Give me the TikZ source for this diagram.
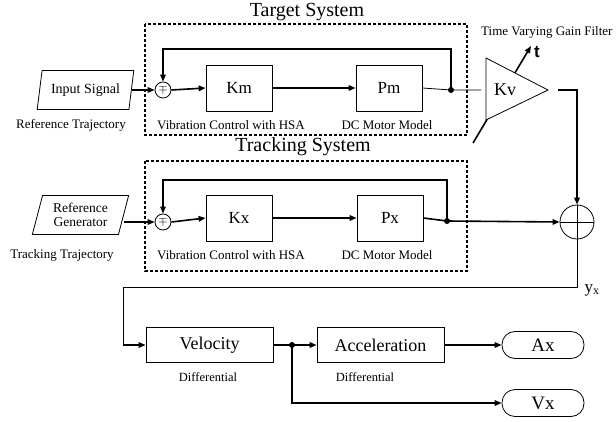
\documentclass[tikz,border=0pt]{standalone}
\usepackage{fontspec}
\setmainfont{Liberation Serif}
\newfontfamily\sansfont{Liberation Sans}
\usetikzlibrary{shapes.geometric,arrows.meta}

\newcommand{\fs}[1]{\fontsize{#1}{#1}\selectfont}

\begin{document}
\begin{tikzpicture}[x=1pt, y=-1pt, >={Triangle[length=7pt,width=5.5pt]},
block/.style={draw, line width=.8pt, minimum width=66pt, minimum height=46pt, inner sep=0, font=\fs{17}},
diffblock/.style={block, minimum width=127pt, minimum height=35pt, font=\fs{18}},
para/.style={trapezium, trapezium left angle=73, trapezium right angle=107, trapezium stretches=true,
  draw, line width=.8pt, minimum width=97pt, minimum height=39pt, inner sep=0, font=\fs{14}, align=center},
summer/.style={draw, circle, line width=.8pt, minimum size=16pt, inner sep=0, font=\fs{13}},
bigsummer/.style={draw, circle, line width=.8pt, minimum size=34pt, inner sep=0},
junction/.style={circle, fill=black, inner sep=0, minimum size=6pt},
outbox/.style={draw, rounded corners=13pt, line width=.8pt, minimum width=82pt, minimum height=27pt, font=\fs{19}},
signal/.style={->, line width=1.6pt},
feedback/.style={->, line width=1.3pt},
subsys/.style={draw, dash pattern=on 3pt off 2pt, line width=1.2pt},
caption/.style={font=\fs{13}},
title/.style={font=\fs{20}},
]
\useasboundingbox (0,0) rectangle (616,422);

%%%%%%%%%%%%%%%%%%%%%%%% TARGET SYSTEM %%%%%%%%%%%%%%%%%%%%%%%%
\node[title] (ttitle) at (307,12) {Target System};
\draw[subsys] (145,24) rectangle (467,135);

\node[para] (inp) at (85.5,90) {Input Signal};
\node[caption] (inpcap) at (71,125) {Reference Trajectory};
\node[summer] (sumt) at (163,90) {$\mp$};
\node[block] (km) at (239,88) {Km};
\node[block] (pm) at (389,88) {Pm};
\node[caption] (kmcap) at (231,125) {Vibration Control with HSA};
\node[caption] (pmcap) at (387,125) {DC Motor Model};
\node[junction] (dotm) at (451,90) {};
\coordinate (fbt) at (163,49);

\draw[signal] (inp.east) -- (sumt.west);
\draw[signal] (sumt.east) -- (km.west);
\draw[signal] (km.east) -- (pm.west);
\draw[feedback] (dotm.center) |- (fbt) -- (sumt.north);

%%%%%%%%%%%%%%%%%%%%%%%% GAIN FILTER %%%%%%%%%%%%%%%%%%%%%%%%
\coordinate (kvA) at (486,58);
\coordinate (kvB) at (486,120);
\coordinate (kvC) at (548,90);
\coordinate (kvin) at (481,90);
\coordinate (kvout) at (558,90);
\coordinate (vgA) at (473,143);
\coordinate (vgB) at (531,46);
\draw[signal] (vgA) -- (vgB);
\filldraw[fill=white, line width=.8pt] (kvA) -- (kvB) -- (kvC) -- cycle;
\node[font=\fs{18}] (kv) at (505,90) {Kv};
\node[font=\sansfont\bfseries\fs{17}] (tlab) at (537,52) {t};
\node[caption, anchor=east] (kvcap) at (616,32) {Time Varying Gain Filter};
\draw[line width=.8pt] (pm.east) -- (dotm.center) -- (kvin);

%%%%%%%%%%%%%%%%%%%%%%%% TRACKING SYSTEM %%%%%%%%%%%%%%%%%%%%%%%%
\node[title] (ktitle) at (303,147) {Tracking System};
\draw[subsys] (145,161) rectangle (467,271);

\node[para, font=\fs{13.5}] (gen) at (80.5,215) {Reference\\[1pt]Generator};
\node[caption] (gencap) at (62,255) {Tracking Trajectory};
\node[summer] (sumk) at (163,222) {$\mp$};
\node[block] (kx) at (239,218) {Kx};
\node[block] (px) at (390,218) {Px};
\node[caption] (kxcap) at (231,255) {Vibration Control with HSA};
\node[caption] (pxcap) at (387,255) {DC Motor Model};
\node[junction] (dotx) at (447,221) {};
\coordinate (fbk) at (163,180);

\draw[signal] (gen.east |- sumk.west) -- (sumk.west);
\draw[signal] (sumk.east) -- (kx.west);
\draw[signal] (kx.east) -- (px.west);
\draw[feedback] (dotx.center) |- (fbk) -- (sumk.north);

%%%%%%%%%%%%%%%%%%%%%%%% ERROR SUM %%%%%%%%%%%%%%%%%%%%%%%%
\node[bigsummer] (sumb) at (577,222) {};
\draw[line width=.6pt] (sumb.north) -- (sumb.south) (sumb.west) -- (sumb.east);
\draw[signal] (kvout) -| (sumb.north);
\draw[signal] (px.east) -- (dotx.center) -- (sumb.west);
\node[font=\fs{17}] (ylab) at (592,290) {y\textsubscript{x}};

%%%%%%%%%%%%%%%%%%%%%%%% DIFFERENTIALS %%%%%%%%%%%%%%%%%%%%%%%%
\node[diffblock] (velo) at (209.5,345) {Velocity};
\node[diffblock] (acc) at (380.5,345) {Acceleration};
\node[caption, font=\fs{12.5}] (velocap) at (208,377) {Differential};
\node[caption, font=\fs{12.5}] (acccap) at (365,377) {Differential};
\node[outbox] (ax) at (543,345) {Ax};
\node[outbox] (vx) at (543,403) {Vx};
\node[junction] (dotv) at (292,345) {};
\coordinate (yturn) at (123,287);
\coordinate (yin) at (123,345);

\draw[line width=.8pt] (sumb.south) |- (yturn) -- (yin);
\draw[signal] (yin) -- (velo.west);
\draw[signal] (velo.east) -- (dotv.center) -- (acc.west);
\draw[signal] (acc.east) -- (ax.west);
\draw[signal] (dotv.center) |- (vx.west);
\end{tikzpicture}
\end{document}
